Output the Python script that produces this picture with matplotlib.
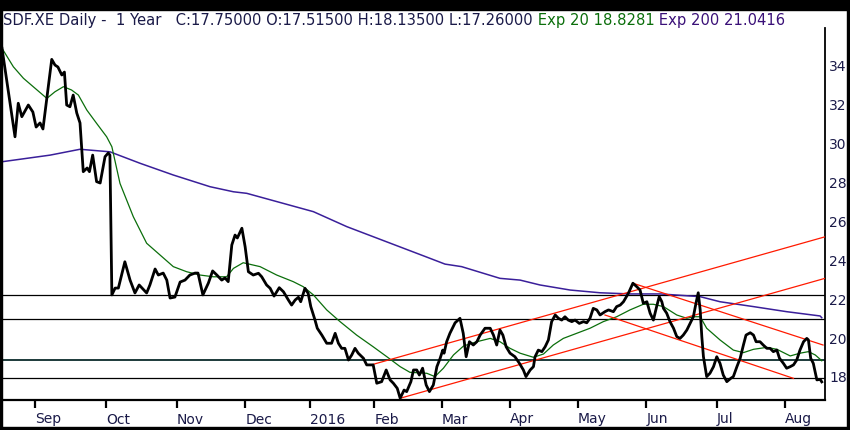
import matplotlib
matplotlib.use("Agg")
import matplotlib.pyplot as plt
from matplotlib.patches import Rectangle

# daily close (x = trading day since mid Aug 2015)
price_day = [0, 4.0, 5.0, 6.1, 8.1, 9.5, 10.5, 11.7, 12.6, 13.8, 15.3, 16.3, 17.2, 18.4, 19.2,
             19.9, 20.9, 21.9, 23.0, 24.0, 25.0, 26.2, 26.9, 27.9, 29.1, 30.2, 31.7, 32.7, 33.2,
             33.8, 34.8, 35.8, 37.8, 39.4, 40.9, 42.2, 44.5, 45.5, 47.1, 48.1, 49.6, 50.7, 51.7,
             53.2, 54.8, 56.3, 57.8, 59.4, 60.3, 61.8, 63.5, 64.8, 66.1, 67.6, 68.6, 69.6, 70.7,
             71.7, 72.4, 73.8, 74.8, 75.8, 77.3, 78.9, 79.9, 81.4, 82.5, 83.7, 85.3, 86.6, 88.1,
             89.1, 90.2, 91.2, 91.9, 93.2, 94.2, 95.0, 96.3, 97.0, 98.4, 99.9, 101.4, 102.5, 103.5,
             104.5, 105.5, 106.6, 107.6, 108.6, 109.6, 111.2, 112.2, 114.2, 115.3, 116.8, 118.2,
             119.4, 120.4, 121.6, 122.5, 123.7, 124.5, 125.8, 126.6, 127.6, 128.4, 129.4, 130.5,
             131.5, 132.7, 133.8, 134.8, 135.6, 136.0, 136.8, 137.8, 139.4, 140.9, 141.9, 142.8,
             143.8, 145.0, 146.1, 147.1, 148.6, 150.2, 151.2, 152.2, 153.2, 154.1, 155.1, 156.3,
             157.8, 159.2, 160.4, 161.2, 162.5, 163.5, 164.0, 165.0, 166.1, 167.1, 168.1, 169.1,
             170.2, 171.2, 172.2, 173.2, 174.2, 175.3, 176.3, 177.6, 178.9, 179.9, 180.9, 181.9,
             183.0, 184.0, 185.5, 186.6, 188.1, 189.1, 190.2, 191.2, 192.7, 194.1, 195.3, 196.3,
             197.3, 198.4, 199.4, 200.4, 201.4, 202.2, 203.0, 203.5, 204.5, 205.5, 206.6, 207.6,
             208.6, 209.6, 210.7, 211.7, 212.7, 213.5, 214.2, 214.8, 215.3, 215.8, 216.8, 217.8,
             218.9, 219.9, 220.9, 221.9, 223.0, 224.2, 225.0, 226.1, 227.1, 228.1, 228.9, 230.2,
             231.2, 232.0, 233.2, 234.2, 235.3, 236.3, 237.3, 238.4, 239.2, 240.4, 241.4, 242.5,
             243.5, 244.5, 245.5, 246.6, 247.6, 248.1, 248.8, 249.6, 250.7, 251.7, 252.2]
price_close = [34.86, 30.32, 32.04, 31.35, 31.95, 31.59, 30.82, 31.03, 30.72, 32.31, 34.29, 34.00,
               33.90, 33.49, 33.64, 31.95, 31.86, 32.46, 31.54, 31.03, 28.53, 28.72, 28.53, 29.38,
               28.02, 27.95, 29.30, 29.49, 29.38, 22.21, 22.56, 22.56, 23.91, 22.97, 22.31, 22.72,
               22.31, 22.72, 23.54, 23.23, 23.33, 22.97, 22.05, 22.10, 22.87, 22.97, 23.23, 23.33,
               23.33, 22.21, 22.82, 23.44, 23.23, 22.97, 23.08, 22.89, 24.77, 25.28, 25.13, 25.63,
               24.68, 23.40, 23.23, 23.32, 23.14, 22.72, 22.55, 22.15, 22.58, 22.37, 21.95, 21.69,
               21.95, 22.09, 21.86, 22.55, 22.29, 21.61, 20.92, 20.50, 20.15, 19.73, 19.73, 20.24,
               19.73, 19.47, 19.47, 18.87, 19.13, 19.47, 19.22, 18.96, 18.62, 18.62, 17.68, 17.76,
               18.36, 17.85, 17.68, 17.42, 16.91, 17.33, 17.25, 17.76, 18.36, 18.36, 18.10, 18.45,
               17.59, 17.25, 17.59, 18.53, 18.96, 19.38, 19.22, 19.81, 20.24, 20.78, 21.01, 20.24,
               19.04, 19.81, 19.64, 19.81, 20.15, 20.50, 20.50, 20.15, 19.64, 20.41, 20.15, 19.55,
               19.22, 19.04, 18.70, 18.36, 18.02, 18.36, 18.53, 19.04, 19.38, 19.30, 19.55, 19.90,
               20.84, 21.18, 21.01, 20.92, 21.09, 20.92, 20.84, 20.92, 20.75, 20.84, 20.78, 21.01,
               21.52, 21.44, 21.18, 21.35, 21.44, 21.35, 21.61, 21.69, 21.86, 22.29, 22.81, 22.63,
               22.46, 21.78, 21.86, 21.27, 20.92, 21.61, 22.12, 21.86, 21.52, 21.27, 20.84, 20.50,
               20.07, 19.98, 20.15, 20.41, 20.75, 21.09, 21.78, 22.32, 21.44, 20.07, 19.04, 18.02,
               18.19, 18.53, 19.04, 18.70, 18.10, 17.76, 17.93, 18.02, 18.53, 18.96, 19.64, 20.15,
               20.27, 20.15, 19.81, 19.81, 19.64, 19.47, 19.47, 19.30, 19.38, 18.96, 18.70, 18.45,
               18.53, 18.62, 18.87, 19.38, 19.81, 19.98, 19.90, 18.96, 18.70, 17.85, 17.88, 17.75]

ema20_day = [0, 3.5, 6.6, 9.6, 13.8, 16.3, 18.9, 21.4, 23.5, 26.1, 29.1, 32.2, 33.8, 36.3, 40.4,
             44.5, 48.6, 52.7, 56.8, 60.9, 65.0, 69.1, 71.2, 74.2, 79.4, 84.5, 89.6, 92.7, 95.8,
             99.9, 104.0, 109.1, 114.2, 118.4, 122.5, 125.5, 128.6, 130.7, 133.2, 135.8, 138.9,
             142.0, 146.1, 150.2, 153.2, 156.3, 159.4, 163.5, 166.6, 169.6, 172.7, 176.8, 180.9,
             185.0, 189.1, 193.2, 197.3, 200.4, 203.5, 207.6, 210.7, 212.7, 214.8, 216.8, 220.9,
             225.0, 228.1, 231.2, 235.3, 238.4, 242.5, 245.5, 248.1, 250.2, 251.7, 252.2]
ema20_val = [34.86, 33.91, 33.32, 32.89, 32.29, 32.63, 32.89, 32.72, 32.46, 31.69, 31.01, 30.32,
             29.81, 27.93, 26.22, 24.86, 24.26, 23.66, 23.40, 23.23, 23.14, 23.14, 23.57, 23.86,
             23.66, 23.23, 22.89, 22.63, 22.21, 21.44, 20.84, 20.15, 19.55, 19.04, 18.53, 18.24,
             18.21, 18.19, 18.02, 18.45, 19.13, 19.59, 19.81, 19.98, 19.81, 19.47, 19.22, 19.01,
             19.18, 19.64, 19.98, 20.24, 20.50, 20.84, 21.09, 21.44, 21.73, 21.73, 21.61, 21.18,
             21.01, 21.09, 21.09, 20.50, 19.90, 19.38, 19.25, 19.42, 19.52, 19.42, 19.08, 19.22,
             19.30, 19.13, 18.91, 18.83]

ema200_day = [0, 14.8, 24.0, 33.2, 42.5, 52.7, 64.0, 71.2, 75.3, 95.8, 106.1, 130.2, 136.3,
              141.4, 153.2, 159.4, 165.5, 174.8, 184.0, 193.2, 202.5, 214.8, 220.9, 231.2,
              241.4, 251.7, 252.2]
ema200_val = [29.04, 29.38, 29.68, 29.55, 28.96, 28.36, 27.76, 27.50, 27.42, 26.48, 25.71,
              24.18, 23.79, 23.66, 23.06, 22.97, 22.72, 22.46, 22.32, 22.26, 22.26, 22.12,
              21.86, 21.61, 21.35, 21.13, 21.04]

# horizontal support / resistance levels
levels = [22.2, 21.0, 18.85, 17.95]
level_colors = ['black', 'black', '#1c3a3a', 'black']
level_widths = [0.9, 0.9, 1.4, 0.9]

# trend channels: (start day, end day), (start price, end price)
trend_days = [(114.2, 253.2), (122.5, 253.2), (194.1, 252.6), (185.5, 243.5)]
trend_prices = [(18.65, 25.19), (16.91, 23.06), (22.81, 19.64), (21.18, 17.93)]

month_days = [10.2, 32.0, 53.8, 74.8, 94.8, 114.5, 135.4, 156.3, 177.2, 198.2, 220.0, 240.9]
month_labels = ['Sep', 'Oct', 'Nov', 'Dec', '2016', 'Feb', 'Mar', 'Apr', 'May', 'Jun', 'Jul', 'Aug']
y_ticks = [18, 20, 22, 24, 26, 28, 30, 32, 34]

navy = '#1a1a48'
W, H = 850, 430

fig = plt.figure(figsize=(W / 100, H / 100), dpi=100)
ax = fig.add_axes([2 / W, 1 - 400 / H, 823 / W, 372 / H])

for lv, c, lw in zip(levels, level_colors, level_widths):
    ax.axhline(lv, color=c, lw=lw, zorder=1)

ax.plot(ema200_day, ema200_val, color='#3a1f9a', lw=1.1, zorder=2)
ax.plot(ema20_day, ema20_val, color='#0b6e0b', lw=0.9, zorder=3)
for d, p in zip(trend_days, trend_prices):
    ax.plot(d, p, color='#ff1a00', lw=0.9, zorder=3)
ax.plot(price_day, price_close, color='black', lw=2.0, zorder=4)

ax.set_xlim(0, 253.2)
ax.set_ylim(16.82, 35.9)

ax.spines['top'].set_visible(False)
ax.spines['left'].set_visible(False)
ax.spines['right'].set_linewidth(1.3)
ax.spines['bottom'].set_linewidth(1.6)

ax.yaxis.tick_right()
ax.set_yticks(y_ticks)
ax.set_yticklabels([str(v) for v in y_ticks])
ax.tick_params(axis='y', length=0, pad=3, labelsize=10, labelcolor=navy)

ax.set_xticks(month_days)
ax.set_xticklabels(month_labels)
ax.tick_params(axis='x', length=6, width=1.6, direction='out', pad=3,
               labelsize=10, labelcolor=navy)
for lab in ax.get_xticklabels():
    lab.set_horizontalalignment('left')

# black frame around the picture
fig.patches.append(Rectangle((0, 1 - 10 / H), 1, 10 / H, transform=fig.transFigure,
                             color='black', zorder=10))
fig.patches.append(Rectangle((0, 0), 2 / W, 1, transform=fig.transFigure, color='black', zorder=10))
fig.patches.append(Rectangle((1 - 3 / W, 0), 3 / W, 1, transform=fig.transFigure,
                             color='black', zorder=10))
fig.patches.append(Rectangle((0, 0), 1, 3 / H, transform=fig.transFigure, color='black', zorder=10))

# header line with coloured parts
hsize = 10.6
t1 = fig.text(3 / W, 1 - 28 / H, 'SDF.XE Daily -  1 Year   C:17.75000 O:17.51500 H:18.13500 L:17.26000',
              fontsize=hsize, color=navy, va='bottom')
t2 = fig.text(0, 0, ' Exp 20 18.8281', fontsize=hsize, color='#0b6e0b', va='bottom')
t3 = fig.text(0, 0, ' Exp 200 21.0416', fontsize=hsize, color='#3a1078', va='bottom')
fig.canvas.draw()
r = fig.canvas.get_renderer()
inv = fig.transFigure.inverted()
b1 = inv.transform(t1.get_window_extent(r))
t2.set_position((b1[1][0], b1[0][1]))
fig.canvas.draw()
b2 = inv.transform(t2.get_window_extent(r))
t3.set_position((b2[1][0], b2[0][1]))

fig.savefig('out.png', dpi=100)
